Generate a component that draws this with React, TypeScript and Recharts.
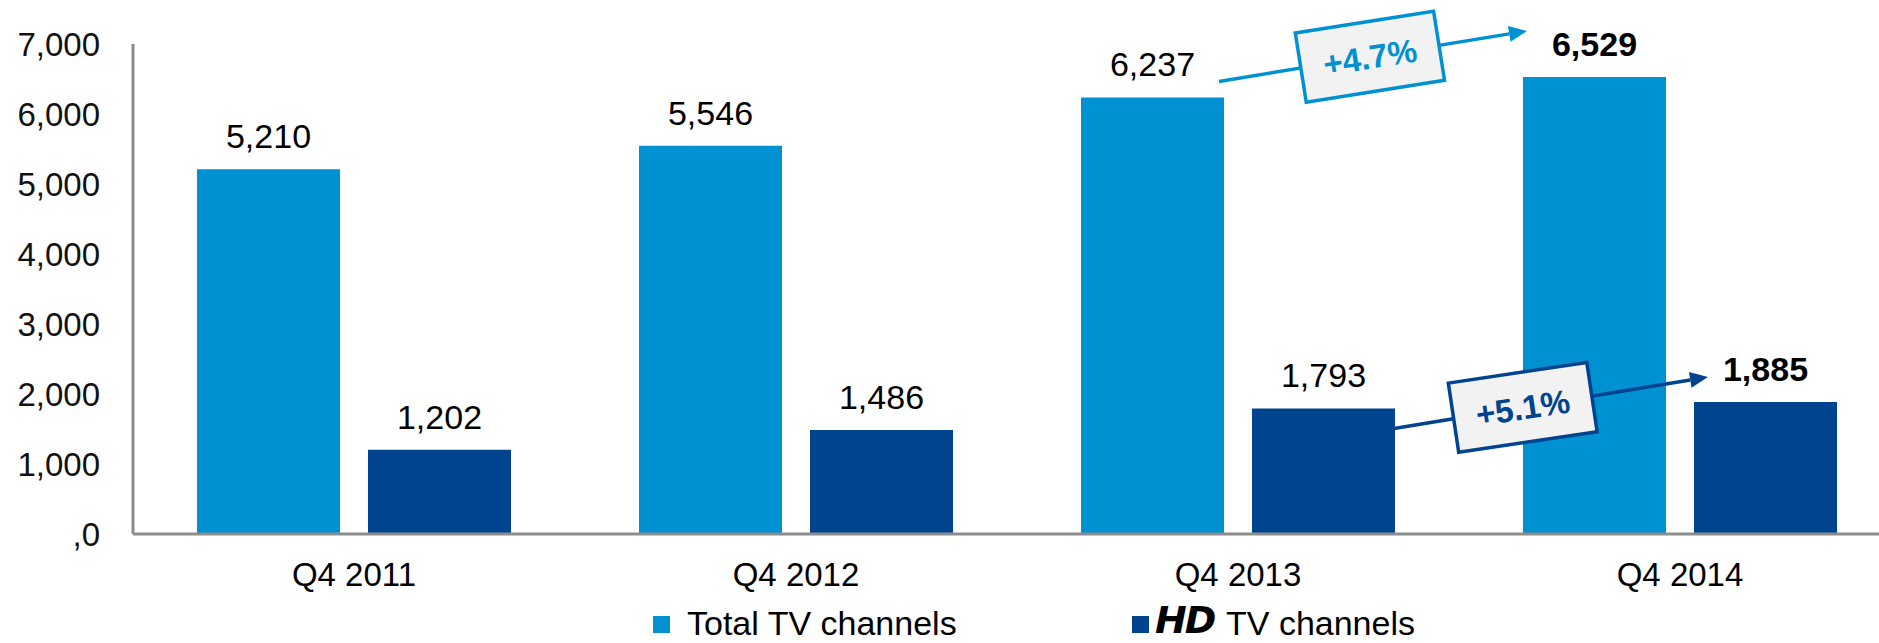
import React from 'react';
import { BarChart, Bar, XAxis, YAxis, LabelList, Legend, ReferenceLine } from 'recharts';

const quarters = ['Q4 2011', 'Q4 2012', 'Q4 2013', 'Q4 2014'];
const totalChannels = [5210, 5546, 6237, 6529];
const hdChannels = [1202, 1486, 1793, 1885];
const yTicks = [0, 1000, 2000, 3000, 4000, 5000, 6000, 7000];
const totalGrowth = '+4.7%';
const hdGrowth = '+5.1%';

const TOTAL = '#0091d2';
const HD = '#00448f';
const AXIS = '#8c8c8c';
const FONT = '"Liberation Sans", Arial, sans-serif';

const data = quarters.map((quarter, i) => ({
  quarter,
  total: totalChannels[i],
  hd: hdChannels[i],
}));

const fmt = (v: number) => v.toLocaleString('en-US');
const tickFmt = (v: number) => (v === 0 ? ',0' : fmt(v));

function ValueLabel(props: any) {
  const { x, y, width, value, index } = props;
  return (
    <text
      x={x + width / 2}
      y={y - 21}
      textAnchor="middle"
      fontSize={34}
      fontFamily={FONT}
      fontWeight={index === quarters.length - 1 ? 700 : 400}
      fill="#000"
    >
      {fmt(value)}
    </text>
  );
}

// arrow from one bar to the next, with a tilted box holding the growth rate
function growthArrow(label: string, color: string, o: any) {
  return (props: any) => {
    const { x1, y1, x2, y2 } = props;
    const sx = x1 + o.sx;
    const sy = y1 + o.sy;
    const ex = x2 + o.ex;
    const ey = y2 + o.ey;
    const ang = Math.atan2(ey - sy, ex - sx);
    const head = 18;
    const hw = 8;
    const bx = ex - head * Math.cos(ang);
    const by = ey - head * Math.sin(ang);
    const px = -Math.sin(ang) * hw;
    const py = Math.cos(ang) * hw;
    const cx = sx + (ex - sx) * o.t;
    const cy = sy + (ey - sy) * o.t;
    return (
      <g>
        <line x1={sx} y1={sy} x2={bx} y2={by} stroke={color} strokeWidth={3.5} />
        <polygon points={`${ex},${ey} ${bx + px},${by + py} ${bx - px},${by - py}`} fill={color} />
        <g transform={`translate(${cx},${cy}) rotate(${o.rot})`}>
          <rect x={-70} y={-35} width={140} height={70} fill="#f2f2f2" stroke={color} strokeWidth={3.5} />
          <text x={0} y={12} textAnchor="middle" fontSize={33} fontWeight={700} fontFamily={FONT} fill={color}>
            {label}
          </text>
        </g>
      </g>
    );
  };
}

function LegendContent() {
  return (
    <div style={{ position: 'relative', height: 49, width: '100%', fontFamily: FONT, fontSize: 34, color: '#000' }}>
      <span style={{ position: 'absolute', left: 653, top: 22, width: 17, height: 17, background: TOTAL }} />
      <span style={{ position: 'absolute', left: 687, top: 12, lineHeight: '34px', whiteSpace: 'nowrap' }}>
        Total TV channels
      </span>
      <span style={{ position: 'absolute', left: 1132, top: 22, width: 17, height: 17, background: HD }} />
      <span
        style={{
          position: 'absolute',
          left: 1155,
          top: 4,
          lineHeight: 'normal',
          paddingRight: 4,
          fontFamily: '"DejaVu Sans", sans-serif',
          fontSize: 38,
          fontWeight: 900,
          fontStyle: 'italic',
          letterSpacing: -2,
        }}
      >
        HD
      </span>
      <span style={{ position: 'absolute', left: 1226, top: 12, lineHeight: '34px', whiteSpace: 'nowrap' }}>
        TV channels
      </span>
    </div>
  );
}

export default function App() {
  return (
    <div
      style={{
        position: 'fixed',
        left: 0,
        top: 0,
        width: 1879,
        height: 643,
        overflow: 'hidden',
        background: '#fff',
      }}
    >
      <BarChart
        width={1901}
        height={643}
        data={data}
        margin={{ top: 44, right: 0, bottom: 0, left: 0 }}
        barSize={143}
        barGap={28}
        style={{ fontFamily: FONT }}
      >
        <XAxis
          dataKey="quarter"
          height={60}
          axisLine={{ stroke: AXIS, strokeWidth: 3 }}
          tickLine={false}
          tickSize={0}
          tickMargin={29}
          interval={0}
          tick={{ fontSize: 33, fill: '#000', fontFamily: FONT }}
        />
        <YAxis
          width={133}
          domain={[0, 7000]}
          ticks={yTicks}
          tickFormatter={tickFmt}
          axisLine={{ stroke: AXIS, strokeWidth: 3 }}
          tickLine={false}
          tickSize={0}
          tickMargin={33}
          tick={{ fontSize: 33, fill: '#111', fontFamily: FONT }}
        />
        <Legend verticalAlign="bottom" content={LegendContent} />
        <Bar dataKey="total" name="Total TV channels" fill={TOTAL} isAnimationActive={false}>
          <LabelList dataKey="total" content={ValueLabel} />
        </Bar>
        <Bar dataKey="hd" name="HD TV channels" fill={HD} isAnimationActive={false}>
          <LabelList dataKey="hd" content={ValueLabel} />
        </Bar>
        <ReferenceLine
          segment={[
            { x: quarters[2], y: totalChannels[2] },
            { x: quarters[3], y: totalChannels[3] },
          ]}
          ifOverflow="visible"
          shape={growthArrow(totalGrowth, TOTAL, { sx: -19, sy: -16, ex: -153, ey: -46, t: 0.49, rot: -9 })}
        />
        <ReferenceLine
          segment={[
            { x: quarters[2], y: hdChannels[2] },
            { x: quarters[3], y: hdChannels[3] },
          ]}
          ifOverflow="visible"
          shape={growthArrow(hdGrowth, HD, { sx: 156, sy: 20, ex: 28, ey: -25, t: 0.41, rot: -8.5 })}
        />
      </BarChart>
    </div>
  );
}
